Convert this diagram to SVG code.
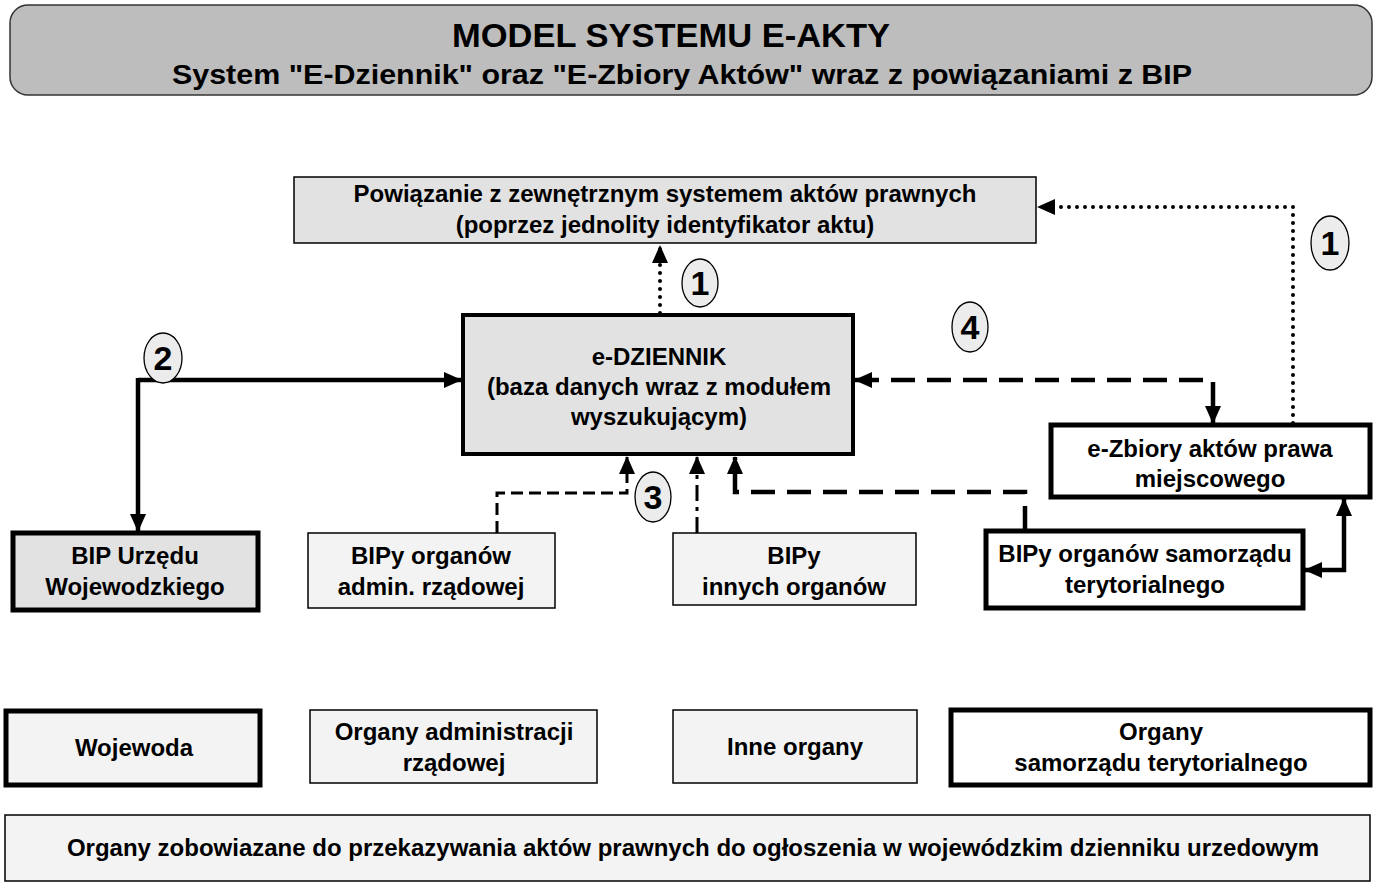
<svg xmlns="http://www.w3.org/2000/svg" width="1381" height="888" viewBox="0 0 1381 888">
<style>
text{font-family:"Liberation Sans",Arial,sans-serif;font-weight:bold;fill:#000;text-anchor:middle}
.t{font-size:24px}
.num{font-size:34px}
.thin{stroke:#000;stroke-width:1.5}
.thick{stroke:#000;stroke-width:5}
.mid{stroke:#000;stroke-width:4}
.g1{fill:#bdbdbd}
.g2{fill:#e2e2e2}
.g3{fill:#f3f3f3}
.w{fill:#fff}
.circ{fill:#ececec;stroke:#000;stroke-width:1.3}
.dot{fill:none;stroke:#000;stroke-width:4;stroke-linecap:round;stroke-dasharray:0 8}
.solid{fill:none;stroke:#000;stroke-width:4.5}
.dash{fill:none;stroke:#000;stroke-width:4.5;stroke-dasharray:24 12}
.dashthin{fill:none;stroke:#000;stroke-width:3;stroke-dasharray:12 6}
.dashdot{fill:none;stroke:#000;stroke-width:3;stroke-dasharray:16 6 4 6}
</style>
<defs>
<marker id="ah" viewBox="0 0 18 16" refX="17" refY="8" markerWidth="18" markerHeight="16" markerUnits="userSpaceOnUse" orient="auto-start-reverse">
<path d="M0,0 L18,8 L0,16 z" fill="#000"/>
</marker>
</defs>

<g id="banner">
<rect x="10" y="5" width="1362" height="90" rx="18" class="g1" stroke="#333" stroke-width="1.5"/>
<text x="671" y="47" font-size="33" textLength="438" lengthAdjust="spacingAndGlyphs">MODEL SYSTEMU E-AKTY</text>
<text x="682" y="84" font-size="27" textLength="1020" lengthAdjust="spacingAndGlyphs">System "E-Dziennik" oraz "E-Zbiory Aktów" wraz z powiązaniami z BIP</text>
</g>

<g id="external">
<rect x="294" y="177" width="742" height="66" class="g2 thin"/>
<text class="t" x="665" y="202">Powiązanie z zewnętrznym systemem aktów prawnych</text>
<text class="t" x="665" y="233">(poprzez jednolity identyfikator aktu)</text>
</g>

<g id="edziennik">
<rect x="463" y="315" width="390" height="139" class="g2 mid"/>
<text class="t" x="659" y="365">e-DZIENNIK</text>
<text class="t" x="659" y="395">(baza danych wraz z modułem</text>
<text class="t" x="659" y="425">wyszukującym)</text>
</g>

<g id="ezbiory">
<rect x="1051" y="425" width="319" height="72" class="w thick"/>
<text class="t" x="1210" y="457">e-Zbiory aktów prawa</text>
<text class="t" x="1210" y="487">miejscowego</text>
</g>

<g id="bip-urzedu">
<rect x="13" y="533" width="245" height="77" class="g2 thick"/>
<text class="t" x="135" y="564">BIP Urzędu</text>
<text class="t" x="135" y="595">Wojewodzkiego</text>
</g>

<g id="bipy-admin">
<rect x="308" y="533" width="247" height="75" class="g3 thin"/>
<text class="t" x="431" y="564">BIPy organów</text>
<text class="t" x="431" y="595">admin. rządowej</text>
</g>

<g id="bipy-innych">
<rect x="673" y="533" width="243" height="72" class="g3 thin"/>
<text class="t" x="794" y="564">BIPy</text>
<text class="t" x="794" y="595">innych organów</text>
</g>

<g id="bipy-samorzadu">
<rect x="986" y="531" width="317" height="77" class="w thick"/>
<text class="t" x="1145" y="562">BIPy organów samorządu</text>
<text class="t" x="1145" y="593">terytorialnego</text>
</g>

<g id="wojewoda">
<rect x="6" y="711" width="254" height="74" class="g3 thick"/>
<text class="t" x="134" y="756">Wojewoda</text>
</g>

<g id="organy-admin">
<rect x="310" y="710" width="287" height="73" class="g3 thin"/>
<text class="t" x="454" y="740">Organy administracji</text>
<text class="t" x="454" y="771">rządowej</text>
</g>

<g id="inne-organy">
<rect x="673" y="710" width="244" height="73" class="g3 thin"/>
<text class="t" x="795" y="755">Inne organy</text>
</g>

<g id="organy-samorzadu">
<rect x="951" y="710" width="419" height="75" class="w thick"/>
<text class="t" x="1161" y="740">Organy</text>
<text class="t" x="1161" y="771">samorządu terytorialnego</text>
</g>

<g id="organy-zobowiazane">
<rect x="5" y="815" width="1365" height="66" class="g3 thin"/>
<text class="t" x="693" y="856">Organy zobowiazane do przekazywania aktów prawnych do ogłoszenia w wojewódzkim dzienniku urzedowym</text>
</g>

<g id="connectors">
<path class="dot" d="M660,313 V246" marker-end="url(#ah)"/>
<path class="dot" d="M1293,423 V207 H1038" marker-end="url(#ah)"/>
<path class="solid" d="M138,380 H461" marker-end="url(#ah)"/>
<path class="solid" d="M138,378 V531" marker-end="url(#ah)"/>
<path class="dash" d="M855,380 H1213 V423" marker-start="url(#ah)" marker-end="url(#ah)"/>
<path class="dashthin" d="M497,533 V493 H627 V457" marker-end="url(#ah)"/>
<path class="dashdot" d="M697,533 V457" marker-end="url(#ah)"/>
<path class="dash" d="M1025,530 V492 H735 V457" marker-end="url(#ah)"/>
<path class="solid" d="M1344,572 V499" marker-end="url(#ah)"/>
<path class="solid" d="M1346,570 H1305" marker-end="url(#ah)"/>
</g>

<g id="labels">
<ellipse cx="700" cy="283" rx="18" ry="24" class="circ"/>
<text class="num" x="700" y="295">1</text>
<ellipse cx="1330" cy="243" rx="19" ry="27" class="circ"/>
<text class="num" x="1330" y="255">1</text>
<ellipse cx="163" cy="358" rx="19" ry="25" class="circ"/>
<text class="num" x="163" y="370">2</text>
<ellipse cx="653" cy="497" rx="18" ry="25" class="circ"/>
<text class="num" x="653" y="509">3</text>
<ellipse cx="970" cy="327" rx="18" ry="25" class="circ"/>
<text class="num" x="970" y="339">4</text>
</g>
</svg>
